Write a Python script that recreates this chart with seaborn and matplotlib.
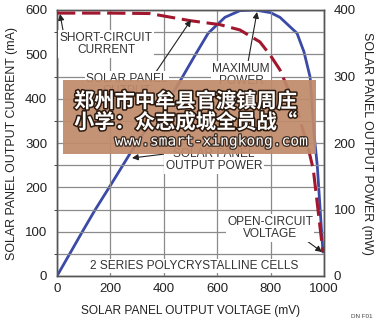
import matplotlib
matplotlib.use("Agg")
import matplotlib.pyplot as plt
import seaborn as sns
import numpy as np
import pandas as pd
from matplotlib.patches import Rectangle
import matplotlib.patheffects as pe

sns.set_style("white")
plt.rcParams['font.family'] = ['Liberation Sans', 'DejaVu Sans']

# Data
current_v = [0, 200, 348, 498, 610, 685, 760, 800, 835, 899, 940, 960, 996]
current_ma = [593, 593, 592, 576, 567, 555, 528, 497, 465, 374, 291, 240, 54]
power_v = [0, 50, 94, 142, 206, 281, 360, 442, 517, 566, 629, 685, 742, 800, 835, 899, 925, 948, 963, 975, 996]
power_mw = [0, 35, 66, 99, 140, 189, 236, 280, 332, 365, 389, 399, 400, 396, 389, 365, 337, 299, 213, 165, 36]

x_ticks = [0, 200, 400, 600, 800, 1000]
left_ticks = [0, 100, 200, 300, 400, 500, 600]
right_ticks = [0, 100, 200, 300, 400]

df_i = pd.DataFrame({"v": current_v, "i": current_ma})
df_p = pd.DataFrame({"v": power_v, "p": power_mw})

fig = plt.figure(figsize=(3.78, 3.26), dpi=100)
ax = fig.add_axes([57/378, 50/326, 267/378, 266/326])
ax2 = ax.twinx()

grid_c = "#8a8a8a"
ax.set_xlim(0, 1000)
ax.set_ylim(0, 600)
ax2.set_ylim(0, 400)
ax.set_xticks(x_ticks)
ax.set_yticks(left_ticks)
ax.set_yticks(np.arange(50, 600, 100), minor=True)
ax2.set_yticks(right_ticks)
ax.grid(True, which="both", color=grid_c, lw=0.9)
ax.set_axisbelow(True)

red = "#a0172e"
blue = "#3a4aa6"
sns.lineplot(data=df_i, x="v", y="i", ax=ax, color=red, lw=2.2, zorder=4)
ax.lines[-1].set_dashes([6, 2.2])
sns.lineplot(data=df_p, x="v", y="p", ax=ax2, color=blue, lw=2.0, zorder=5)
for ln in ax.lines + ax2.lines:
    ln.set_solid_joinstyle("round")
    ln.set_dash_joinstyle("round")
ax.set_zorder(ax2.get_zorder() + 1)
ax.patch.set_visible(False)

tick_fs = 9.5
ax.tick_params(axis="x", length=0, labelsize=tick_fs, colors="#222222", pad=5)
ax.tick_params(axis="y", length=0, labelsize=tick_fs, colors="#222222", pad=7)
ax2.tick_params(axis="y", length=0, labelsize=tick_fs, colors="#222222", pad=7)
for a in (ax, ax2):
    for s in a.spines.values():
        s.set_color("#555555")
        s.set_linewidth(1.0)

lab_fs = 8.6
ax.set_xlabel("SOLAR PANEL OUTPUT VOLTAGE (mV)", fontsize=lab_fs, color="#222222", labelpad=7)
ax.set_ylabel("SOLAR PANEL OUTPUT CURRENT (mA)", fontsize=8.9, color="#222222", labelpad=5)
ax2.set_ylabel("SOLAR PANEL OUTPUT POWER (mW)", fontsize=8.9, color="#222222",
               rotation=270, labelpad=12)

bbox = dict(boxstyle="square,pad=0.12", fc="white", ec="none")
afs = 8.6
tc = "#333333"
arrow = dict(arrowstyle="-|>", color="#222222", lw=0.8, mutation_scale=9, shrinkA=0, shrinkB=0)

def px(x, y):
    # pixel coords of figure -> figure fraction
    return (x / 378, 1 - y / 326)

ax.annotate("SHORT-CIRCUIT\nCURRENT", xy=px(60, 14), xycoords="figure fraction",
            xytext=px(106, 44), textcoords="figure fraction", ha="center", va="center",
            fontsize=afs, color=tc, bbox=bbox, arrowprops=dict(arrow, relpos=(0.04, 1.0)),
            linespacing=1.05, zorder=6)
ax.annotate("SOLAR PANEL\nOUTPUT\nCURRENT", xy=px(191, 20), xycoords="figure fraction",
            xytext=px(127, 91), textcoords="figure fraction", ha="center", va="center",
            fontsize=afs, color=tc, bbox=bbox, arrowprops=dict(arrow, relpos=(0.85, 1.0)),
            linespacing=1.05, zorder=6)
ax.annotate("MAXIMUM\nPOWER", xy=px(257, 12), xycoords="figure fraction",
            xytext=px(241, 75), textcoords="figure fraction", ha="center", va="center",
            fontsize=afs, color=tc, bbox=bbox, arrowprops=dict(arrow, relpos=(0.62, 1.0)),
            linespacing=1.05, zorder=6)
ax.annotate("SOLAR PANEL\nOUTPUT POWER", xy=px(132, 158), xycoords="figure fraction",
            xytext=px(214, 160), textcoords="figure fraction", ha="center", va="center",
            fontsize=afs, color=tc, bbox=bbox, arrowprops=dict(arrow, relpos=(0.0, 0.75)),
            linespacing=1.05, zorder=6)
ax.annotate("OPEN-CIRCUIT\nVOLTAGE", xy=px(322, 252), xycoords="figure fraction",
            xytext=px(270, 228), textcoords="figure fraction", ha="center", va="center",
            fontsize=afs, color=tc, bbox=bbox, arrowprops=dict(arrow, relpos=(0.88, 0.1)),
            linespacing=1.05, zorder=6)
fig.text(*px(194, 266), "2 SERIES POLYCRYSTALLINE CELLS", ha="center", va="center",
         fontsize=afs, color=tc, bbox=bbox, zorder=6)
fig.text(*px(362, 317), "DN F01", ha="center", va="center", fontsize=4.5, color="#444444")

# watermark overlay present in the reference
fig.patches.append(Rectangle(px(63, 154), 253/378, 74/326, transform=fig.transFigure,
                             fc="#c08a6a", ec="none", alpha=0.93, zorder=10))
stroke = [pe.withStroke(linewidth=2.2, foreground="#2a1a10")]
cjk = ['Noto Sans CJK SC', 'DejaVu Sans']
fig.text(*px(74, 101), "郑州市中牟县官渡镇周庄", ha="left", va="center", fontsize=14.6,
         family=cjk, weight="bold", color="white", path_effects=stroke, zorder=11)
fig.text(*px(74, 122), "小学：众志成城全员战“", ha="left", va="center", fontsize=14.6,
         family=cjk, weight="bold", color="white", path_effects=stroke, zorder=11)
fig.text(*px(211, 141), "www.smart-xingkong.com", ha="center", va="center", fontsize=10.5,
         family="DejaVu Sans Mono", color="white",
         path_effects=[pe.withStroke(linewidth=1.8, foreground="#3a2a20")], zorder=11)

fig.savefig("out.png", dpi=100)
